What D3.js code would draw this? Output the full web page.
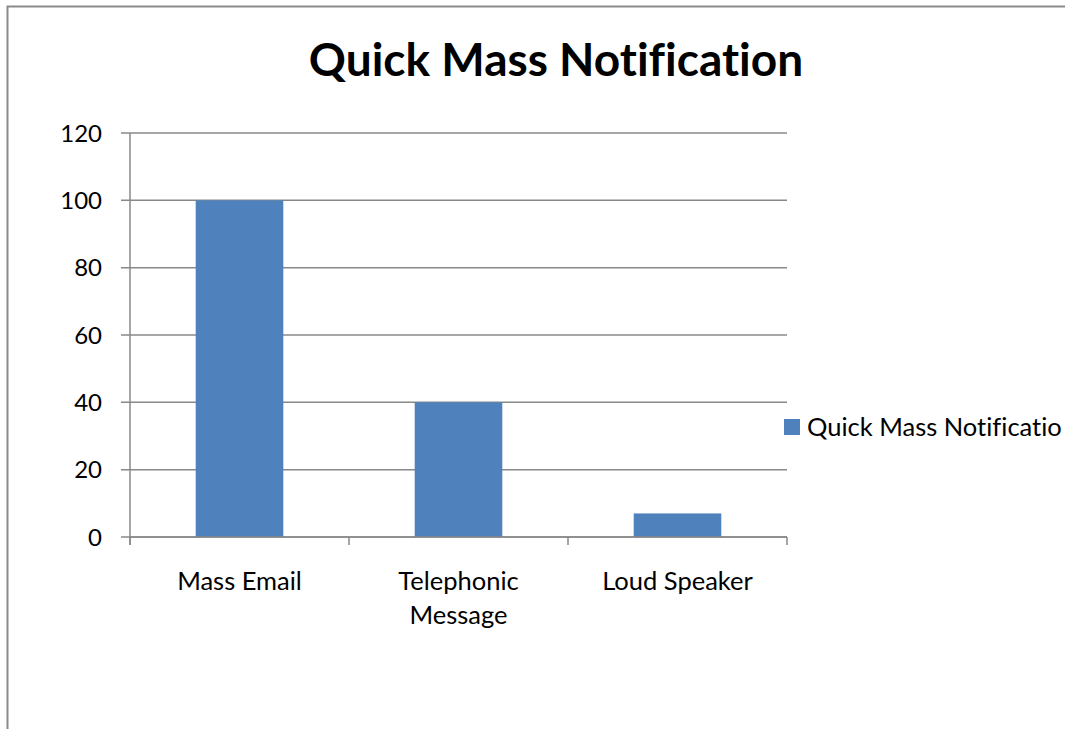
<!DOCTYPE html>
<html>
<head>
<meta charset="utf-8">
<script src="https://cdn.jsdelivr.net/npm/d3@7"></script>
<style>
  body { margin: 0; background: #fff; }
  text { font-family: Lato, "Open Sans", sans-serif; fill: #000; font-variant-ligatures: none; }
</style>
</head>
<body>
<svg id="chart" width="1065" height="729"></svg>
<script>
// chart data
const categories = ["Mass Email", "Telephonic Message", "Loud Speaker"];
const values = [100, 40, 7];
const yTicks = [0, 20, 40, 60, 80, 100, 120];
const seriesName = "Quick Mass Notificatio";
const title = "Quick Mass Notification";

const svg = d3.select("#chart");
const plotLeft = 130, plotRight = 787, plotTop = 133, plotBottom = 537;

// outer frame (left + top only visible)
svg.append("path")
    .attr("d", `M 7.5,729 L 7.5,6.5 L 1065,6.5`)
    .attr("fill", "none")
    .attr("stroke", "#8a8a8a")
    .attr("stroke-width", 2);

svg.append("text")
    .attr("x", 556).attr("y", 76)
    .attr("text-anchor", "middle")
    .style("font-size", "46px")
    .style("font-weight", "bold")
    .text(title);

const x = d3.scaleBand()
    .domain(categories)
    .range([plotLeft, plotRight])
    .paddingInner(0.6)
    .paddingOuter(0.3);

const y = d3.scaleLinear()
    .domain([0, 120])
    .range([plotBottom, plotTop]);

// gridlines
svg.append("g")
    .selectAll("line")
    .data(yTicks)
    .join("line")
    .attr("x1", plotLeft - 9).attr("x2", plotRight)
    .attr("y1", d => y(d)).attr("y2", d => y(d))
    .attr("stroke", "#888")
    .attr("stroke-width", 1.5);

// bars
svg.append("g")
    .selectAll("rect")
    .data(values)
    .join("rect")
    .attr("x", (d, i) => x(categories[i]))
    .attr("y", d => y(d))
    .attr("width", x.bandwidth())
    .attr("height", d => plotBottom - y(d))
    .attr("fill", "#4F81BD");

// y axis line
svg.append("line")
    .attr("x1", plotLeft).attr("x2", plotLeft)
    .attr("y1", plotTop).attr("y2", plotBottom + 8)
    .attr("stroke", "#888").attr("stroke-width", 1.5);

// x axis line + ticks
svg.append("line")
    .attr("x1", plotLeft).attr("x2", plotRight)
    .attr("y1", plotBottom).attr("y2", plotBottom)
    .attr("stroke", "#888").attr("stroke-width", 1.5);

const step = x.step();
svg.append("g")
    .selectAll("line")
    .data(d3.range(categories.length + 1))
    .join("line")
    .attr("x1", i => plotLeft + i * step).attr("x2", i => plotLeft + i * step)
    .attr("y1", plotBottom).attr("y2", plotBottom + 8)
    .attr("stroke", "#888").attr("stroke-width", 1.5);

// y tick labels
svg.append("g")
    .selectAll("text")
    .data(yTicks)
    .join("text")
    .attr("x", 102)
    .attr("y", d => y(d) + 8.5)
    .attr("text-anchor", "end")
    .style("font-size", "24px")
    .text(d => d);

// category labels (wrap Telephonic Message)
const catLabels = [["Mass Email"], ["Telephonic", "Message"], ["Loud Speaker"]];
svg.append("g")
    .selectAll("text")
    .data(categories)
    .join("text")
    .attr("text-anchor", "middle")
    .style("font-size", "25.5px")
    .each(function(d, i) {
        const cx = x(d) + x.bandwidth() / 2;
        d3.select(this).selectAll("tspan")
            .data(catLabels[i])
            .join("tspan")
            .attr("x", cx)
            .attr("y", (t, j) => 590 + j * 34)
            .text(t => t);
    });

// legend
svg.append("rect")
    .attr("x", 784).attr("y", 419)
    .attr("width", 16).attr("height", 16)
    .attr("fill", "#4F81BD");
svg.append("text")
    .attr("x", 807).attr("y", 436)
    .style("font-size", "25.5px")
    .text(seriesName);
</script>
</body>
</html>
